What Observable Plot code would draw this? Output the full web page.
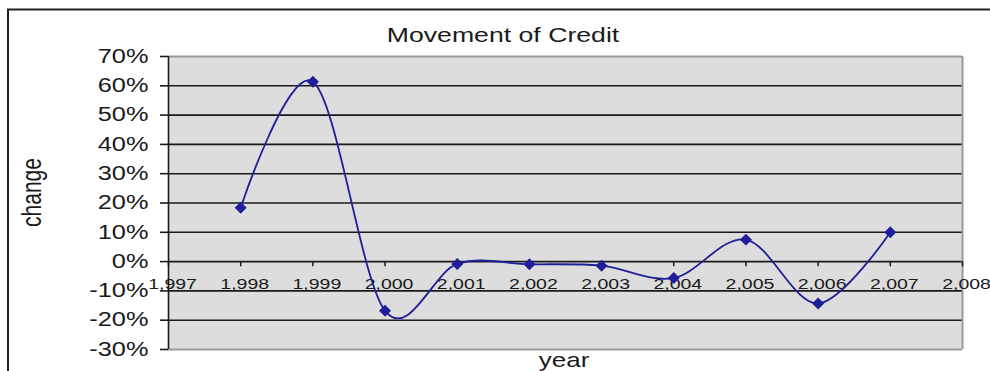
<!DOCTYPE html>
<html>
<head>
<meta charset="utf-8">
<script src="https://cdn.jsdelivr.net/npm/d3@7"></script>
<script src="https://cdn.jsdelivr.net/npm/@observablehq/plot@0.6"></script>
<style>
  body { margin: 0; background: #fff; }
  #chart svg { display: block; }
</style>
</head>
<body>
<div id="chart"></div>
<script>
// Yearly change in credit
const years  = [1998, 1999, 2000, 2001, 2002, 2003, 2004, 2005, 2006, 2007];
const change = [0.184, 0.614, -0.168, -0.008, -0.009, -0.014, -0.056, 0.075, -0.143, 0.100];

// Axis ticks
const yTicks = [-0.3, -0.2, -0.1, 0, 0.1, 0.2, 0.3, 0.4, 0.5, 0.6, 0.7];
const xTicks = [1997, 1998, 1999, 2000, 2001, 2002, 2003, 2004, 2005, 2006, 2007, 2008];

const titleText = "Movement of Credit";
const xLabel = "year";
const yLabel = "change";

const ink = "#1a1a1a";
const seriesColor = "#1f1f9a";
const pct = d => `${Math.round(d * 100)}%`;
const thousands = d3.format(",");

const chart = Plot.plot({
  width: 990,
  height: 371,
  marginLeft: 168,
  marginRight: 28,
  marginTop: 56,
  marginBottom: 22,
  style: { fontFamily: "'Liberation Sans', Arial, sans-serif", background: "#fff", color: ink },
  x: { domain: [1997, 2008], axis: null },
  y: { domain: [-0.3, 0.7], axis: null },
  marks: [
    Plot.frame({ fill: "#dddddd", stroke: null }),
    // horizontal gridlines
    Plot.ruleY(yTicks.slice(1, -1), { stroke: ink, strokeWidth: 1.6 }),
    // plot-area border: grey top, right and bottom, dark left axis
    Plot.ruleY([0.7, -0.3], { stroke: "#9a9a9a", strokeWidth: 2 }),
    Plot.ruleX([2008], { stroke: "#9a9a9a", strokeWidth: 2 }),
    Plot.ruleX([1997], { stroke: ink, strokeWidth: 1.6 }),
    Plot.axisY(yTicks, {
      anchor: "left",
      tickSize: 8,
      tickPadding: 12,
      tickFormat: pct,
      fontSize: 19.5,
      strokeWidth: 1.6
    }),
    // category ticks and labels sit on the zero line
    Plot.ruleX(xTicks, { x: d => d, y1: 0, y2: -0.018, stroke: ink, strokeWidth: 1.5 }),
    Plot.text(xTicks, { x: d => d, y: 0, text: d => thousands(d), dy: 23, dx: 4, fontSize: 15, fill: ink }),
    // smoothed series line with diamond markers
    Plot.line(years, { x: years, y: change, curve: "cardinal", tension: 0, stroke: seriesColor, strokeWidth: 1.8 }),
    Plot.dot(years, { x: years, y: change, symbol: "diamond2", r: 5.4, fill: seriesColor, stroke: null })
  ]
});

document.getElementById("chart").appendChild(chart);

const svg = d3.select(chart);

// outer chart border (top and left edges)
svg.append("path")
  .attr("d", "M8,371V9.5H990")
  .attr("fill", "none")
  .attr("stroke", "#222")
  .attr("stroke-width", 2);

svg.append("text")
  .attr("class", "chart-title")
  .attr("transform", "translate(503,42)")
  .attr("text-anchor", "middle")
  .attr("font-size", 20.5)
  .attr("fill", ink)
  .text(titleText);

svg.append("text")
  .attr("transform", "translate(564,366.5)")
  .attr("text-anchor", "middle")
  .attr("font-size", 20)
  .attr("fill", ink)
  .text(xLabel);

svg.append("text")
  .attr("class", "y-label")
  .attr("transform", "translate(41,192.5) rotate(-90) scale(1,1.3)")
  .attr("text-anchor", "middle")
  .attr("font-size", 21)
  .attr("fill", ink)
  .text(yLabel);

// widen the horizontal text glyphs
svg.selectAll("text").each(function () {
  if (this.classList.contains("y-label")) return;
  const t = this.getAttribute("transform") || "";
  this.setAttribute("transform", `${t} scale(1.3,1)`);
});
</script>
</body>
</html>
